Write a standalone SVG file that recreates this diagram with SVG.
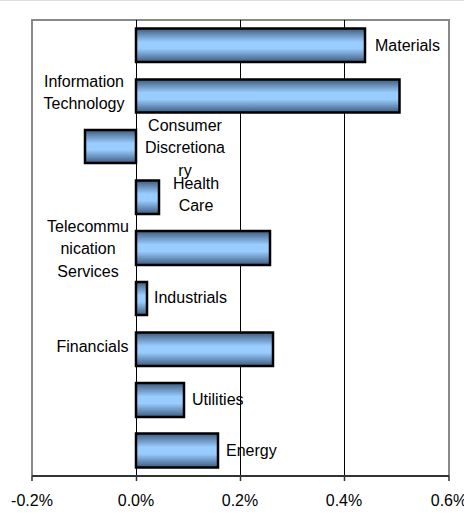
<svg xmlns="http://www.w3.org/2000/svg" width="464" height="523" viewBox="0 0 464 523">
<defs>
<linearGradient id="bg" x1="0" y1="0" x2="0" y2="1">
<stop offset="0" stop-color="#3e5c7e"/>
<stop offset="0.4" stop-color="#99ccff"/>
<stop offset="0.6" stop-color="#99ccff"/>
<stop offset="1" stop-color="#3e5c7e"/>
</linearGradient>
</defs>
<style>
text{font-family:"Liberation Sans",Arial,sans-serif;font-size:16px;fill:#000}
.grid{stroke:#000;stroke-width:1}
.frame{stroke:#888;stroke-width:2;fill:none}
.bar{fill:url(#bg);stroke:#000;stroke-width:2.5}
.m{text-anchor:middle}
</style>
<rect width="464" height="523" fill="#fff"/>
<line x1="0" y1="0.5" x2="464" y2="0.5" stroke="#ddd" stroke-width="1"/>
<g id="frame">
<path class="frame" d="M32,476 V20 H449 V476"/>
</g>
<g id="gridlines">
<line class="grid" x1="136.5" y1="20" x2="136.5" y2="476"/>
<line class="grid" x1="240.5" y1="20" x2="240.5" y2="476"/>
<line class="grid" x1="344.5" y1="20" x2="344.5" y2="476"/>
</g>
<g id="axis">
<line x1="32" y1="476" x2="449" y2="476" stroke="#333" stroke-width="2"/>
<path d="M32,476V481M136.5,476V481M240.5,476V481M344.5,476V481M449,476V481" stroke="#333" stroke-width="1.5"/>
<text class="m" x="32" y="506">-0.2%</text>
<text class="m" x="136" y="506">0.0%</text>
<text class="m" x="240" y="506">0.2%</text>
<text class="m" x="344" y="506">0.4%</text>
<text class="m" x="449" y="506">0.6%</text>
</g>
<g id="materials">
<rect class="bar" x="136" y="28.5" width="229" height="33.5"/>
<text x="375" y="51">Materials</text>
</g>
<g id="it">
<rect class="bar" x="136" y="79.5" width="263.5" height="33"/>
<text class="m" x="84" y="86.5">Information</text>
<text class="m" x="84" y="109">Technology</text>
</g>
<g id="consumer">
<rect class="bar" x="85" y="130" width="51" height="33"/>
<text class="m" x="185" y="130.5">Consumer</text>
<text class="m" x="185" y="153">Discretiona</text>
<text class="m" x="185" y="175.5">ry</text>
</g>
<g id="health">
<rect class="bar" x="136" y="180.5" width="23" height="33.5"/>
<text class="m" x="196" y="189">Health</text>
<text class="m" x="196" y="211">Care</text>
</g>
<g id="telecom">
<rect class="bar" x="136" y="231" width="134" height="34"/>
<text class="m" x="88" y="231.5">Telecommu</text>
<text class="m" x="88" y="254">nication</text>
<text class="m" x="88" y="276.5">Services</text>
</g>
<g id="industrials">
<rect class="bar" x="136" y="282" width="11" height="33"/>
<text x="154" y="303">Industrials</text>
</g>
<g id="financials">
<rect class="bar" x="136" y="332.5" width="137" height="33.5"/>
<text class="m" x="92.5" y="352">Financials</text>
</g>
<g id="utilities">
<rect class="bar" x="136" y="383" width="48" height="34"/>
<text x="192" y="405">Utilities</text>
</g>
<g id="energy">
<rect class="bar" x="136" y="433.5" width="82" height="34"/>
<text x="226" y="456">Energy</text>
</g>
</svg>
